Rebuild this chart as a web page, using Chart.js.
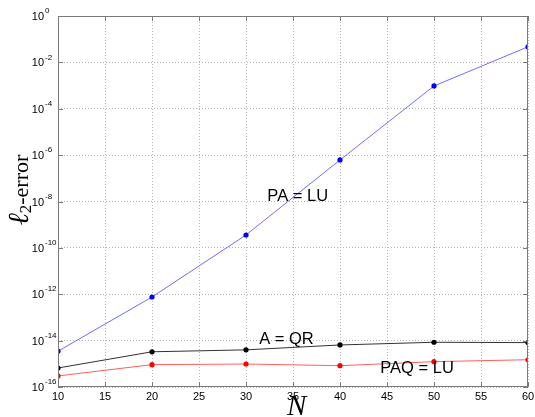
<!DOCTYPE html>
<html>
<head>
<meta charset="utf-8">
<script src="https://cdn.jsdelivr.net/npm/chart.js@4.4.0/dist/chart.umd.min.js"></script>
<style>
body { margin: 0; background: #fff; }
</style>
</head>
<body>
<canvas id="myChart" width="535" height="417"></canvas>
<script>
'use strict';

// matrix size N and l2-error of each factorisation
let sizes = [10, 20, 30, 40, 50, 60];
let errPALU = [3.5e-15, 7.6e-13, 3.6e-10, 6.2e-7, 9.6e-4, 4.7e-2];
let errAQR = [6.6e-16, 3.3e-15, 4.0e-15, 6.5e-15, 8.5e-15, 8.2e-15];
let errPAQLU = [3.0e-16, 9.2e-16, 9.8e-16, 8.3e-16, 1.24e-15, 1.5e-15];

let seriesNames = ['PA = LU', 'A = QR', 'PAQ = LU'];
let xTicks = [10, 15, 20, 25, 30, 35, 40, 45, 50, 55, 60];
let yExponents = [0, -2, -4, -6, -8, -10, -12, -14, -16];

function points(values) {
    return sizes.map((n, i) => ({ x: n, y: values[i] }));
}

function makeSet(name, values, lineColor, dotColor) {
    return {
        label: name,
        data: points(values),
        borderColor: lineColor,
        borderWidth: 1,
        pointRadius: 2.6,
        pointBorderWidth: 0,
        pointBackgroundColor: dotColor,
        tension: 0
    };
}

let textFont = '"Liberation Sans", Arial, sans-serif';
let serifFont = '"Liberation Serif", "Times New Roman", serif';

let matlabLook = {
    id: 'matlabLook',
    afterDraw(chart) {
        let ctx = chart.ctx;
        let a = chart.chartArea;
        let xs = chart.scales.x;
        let ys = chart.scales.y;
        ctx.save();

        // box and inward ticks
        ctx.strokeStyle = '#7a7a7a';
        ctx.lineWidth = 1;
        ctx.strokeRect(a.left + 0.5, a.top + 0.5, a.right - a.left - 1, a.bottom - a.top - 1);
        ctx.beginPath();
        xTicks.forEach(v => {
            let px = Math.round(xs.getPixelForValue(v)) + 0.5;
            ctx.moveTo(px, a.bottom); ctx.lineTo(px, a.bottom - 5);
            ctx.moveTo(px, a.top); ctx.lineTo(px, a.top + 5);
        });
        yExponents.forEach(e => {
            let py = Math.round(ys.getPixelForValue(Math.pow(10, e))) + 0.5;
            ctx.moveTo(a.left, py); ctx.lineTo(a.left + 5, py);
            ctx.moveTo(a.right, py); ctx.lineTo(a.right - 5, py);
        });
        ctx.stroke();

        // tick labels
        ctx.fillStyle = '#000';
        ctx.font = '11px ' + textFont;
        ctx.textAlign = 'center';
        ctx.textBaseline = 'middle';
        xTicks.forEach(v => {
            ctx.fillText(String(v), xs.getPixelForValue(v), a.bottom + 10);
        });
        yExponents.forEach(e => {
            let py = ys.getPixelForValue(Math.pow(10, e));
            ctx.font = '11px ' + textFont;
            ctx.textAlign = 'right';
            ctx.fillText('10', a.left - 14, py + 1);
            ctx.font = '8px ' + textFont;
            ctx.textAlign = 'left';
            ctx.fillText(String(e), a.left - 13, py - 5);
        });

        // curve names
        ctx.font = '16.5px ' + textFont;
        ctx.textAlign = 'center';
        ctx.fillText(seriesNames[0], xs.getPixelForValue(35.5), ys.getPixelForValue(1.6e-8));
        ctx.fillText(seriesNames[1], xs.getPixelForValue(34.3), ys.getPixelForValue(1.07e-14));
        ctx.fillText(seriesNames[2], xs.getPixelForValue(48.2), ys.getPixelForValue(6.6e-16));

        // x title
        ctx.font = 'italic 29px ' + serifFont;
        ctx.textBaseline = 'alphabetic';
        ctx.fillText('N', xs.getPixelForValue(35.4), 415);

        // y title: l2-error, rotated
        ctx.translate(28, 190);
        ctx.rotate(-Math.PI / 2);
        let big = '22px ' + serifFont;
        let ell = 'italic 29px ' + serifFont;
        let small = '17px ' + serifFont;
        ctx.font = ell;
        let w1 = ctx.measureText('\u2113').width;
        ctx.font = small;
        let w2 = ctx.measureText('2').width;
        ctx.font = big;
        let w3 = ctx.measureText('-error').width;
        let x0 = -(w1 + w2 + w3) / 2;
        ctx.textAlign = 'left';
        ctx.font = ell;
        ctx.fillText('\u2113', x0, 0);
        ctx.font = small;
        ctx.fillText('2', x0 + w1, 3);
        ctx.font = big;
        ctx.fillText('-error', x0 + w1 + w2, 0);

        ctx.restore();
    }
};

let ctx = document.getElementById('myChart').getContext('2d');
let myChart = new Chart(ctx, {
    type: 'line',
    data: {
        datasets: [
            makeSet(seriesNames[0], errPALU, 'rgb(110,110,255)', '#0000ff'),
            makeSet(seriesNames[1], errAQR, 'rgb(50,50,50)', '#000000'),
            makeSet(seriesNames[2], errPAQLU, 'rgb(255,95,95)', '#ff0000')
        ]
    },
    options: {
        responsive: false,
        animation: false,
        layout: { padding: { top: 16, right: 7, left: 0, bottom: 0 } },
        plugins: { legend: { display: false }, tooltip: { enabled: false } },
        scales: {
            x: {
                type: 'linear',
                min: 10,
                max: 60,
                afterBuildTicks: s => { s.ticks = xTicks.map(v => ({ value: v })); },
                afterFit: s => { s.height = 30; },
                ticks: { display: false },
                grid: { color: '#b4b4b4', drawTicks: false },
                border: { display: false, dash: [1, 2] }
            },
            y: {
                type: 'logarithmic',
                min: 1e-16,
                max: 1,
                afterBuildTicks: s => { s.ticks = yExponents.map(e => ({ value: Math.pow(10, e) })); },
                afterFit: s => { s.width = 58; },
                ticks: { display: false },
                grid: { color: '#b4b4b4', drawTicks: false },
                border: { display: false, dash: [1, 2] }
            }
        }
    },
    plugins: [matlabLook]
});
</script>
</body>
</html>
